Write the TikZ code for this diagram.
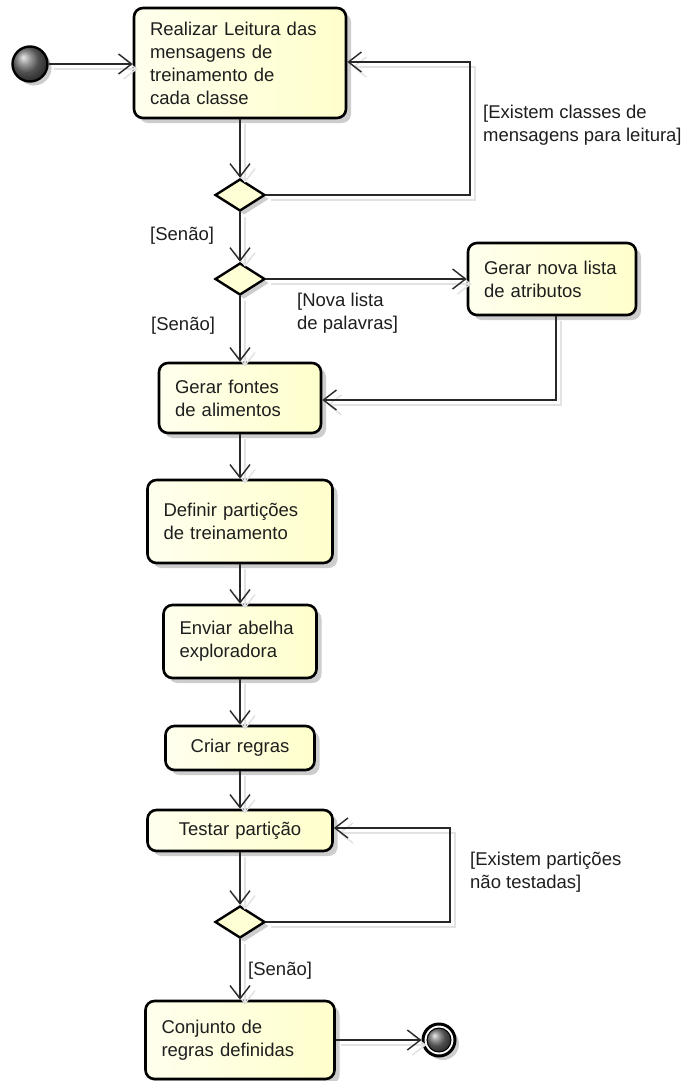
\documentclass[tikz,border=0pt]{standalone}
\usepackage{fontspec}
\setmainfont{Liberation Sans}
\usetikzlibrary{arrows.meta,shapes.geometric,shadows}

\definecolor{actL}{RGB}{255,255,238}
\definecolor{actR}{RGB}{255,255,204}
\definecolor{decF}{RGB}{255,255,214}
\definecolor{lineC}{RGB}{40,40,40}
\definecolor{txtC}{RGB}{30,30,30}
\definecolor{shadeC}{RGB}{205,205,205}
\definecolor{ghostC}{RGB}{226,226,226}

\newcommand\umlfont{\fontsize{18.5pt}{23pt}\selectfont}

\begin{document}
\begin{tikzpicture}[x=1pt,y=-1pt,
  act/.style={draw=black, line width=2.6pt, rounded corners=9pt,
    left color=actL, right color=actR,
    drop shadow={shadow xshift=5pt, shadow yshift=-5pt, fill=shadeC, opacity=1},
    font=\umlfont, text=txtC, inner xsep=16pt, inner ysep=0pt},
  actl/.style={act, align=left},
  actc/.style={act, align=center},
  dec/.style={diamond, draw=black, line width=2.4pt, fill=decF, inner sep=0pt,
    minimum width=50pt, minimum height=32pt,
    drop shadow={shadow xshift=4pt, shadow yshift=-4pt, fill=shadeC, opacity=1}},
  flow/.style={draw=lineC, line width=1.4pt,
    -{Straight Barb[length=13pt, width=20pt, line width=1.4pt]},
    preaction={draw=ghostC, line width=1.4pt,
      transform canvas={shift={(5pt,-5pt)}}}},
  guard/.style={font=\umlfont, text=txtC, align=left, inner sep=0pt},
  startnode/.style={circle, draw=black, line width=2.4pt, minimum size=35pt,
    inner sep=0pt, shading=ball, ball color=black!55,
    drop shadow={shadow xshift=4pt, shadow yshift=-4pt, fill=shadeC, opacity=1}},
  endring/.style={circle, draw=black, line width=3pt, minimum size=32pt,
    inner sep=0pt, fill=white,
    drop shadow={shadow xshift=4pt, shadow yshift=-4pt, fill=shadeC, opacity=1}},
  endball/.style={circle, draw=black, line width=1pt, minimum size=24pt,
    inner sep=0pt, shading=ball, ball color=black!55}
]
\fill[white] (0,0) rectangle (686,1081);
\useasboundingbox (0,0) rectangle (686,1081);

% start and end markers
\node[startnode] (start) at (30,64) {};
\node[endring] (fin) at (439,1040) {};
\node[endball] (finball) at (fin) {};

% actions
\node[actl, text width=180pt, minimum height=110pt] (b1) at (240,63)
  {Realizar Leitura das\\mensagens de\\treinamento de\\cada classe};
\node[actl, text width=136pt, minimum height=72pt] (nova) at (552,279)
  {Gerar nova lista\\de atributos};
\node[actl, text width=130pt, minimum height=70pt] (fontes) at (240,398)
  {Gerar fontes\\de alimentos};
\node[actl, text width=153pt, minimum height=83pt] (definir) at (240,521.5)
  {Definir partições\\de treinamento};
\node[actl, text width=121pt, minimum height=73pt] (enviar) at (240,641.5)
  {Enviar abelha\\exploradora};
\node[actc, text width=117pt, minimum height=44pt] (criar) at (240,748)
  {Criar regras};
\node[actc, text width=153pt, minimum height=41pt] (testar) at (240,830.5)
  {Testar partição};
\node[actl, text width=157pt, minimum height=78pt] (conj) at (240,1040)
  {Conjunto de\\regras definidas};

% decisions
\node[dec] (d1) at (240,195) {};
\node[dec] (d2) at (240,279) {};
\node[dec] (d3) at (240,922) {};

% loop corners
\coordinate (l1a) at (470,195);
\coordinate (l1b) at (470,62);
\coordinate (n1) at (556,400);
\coordinate (l3a) at (450,922);
\coordinate (l3b) at (450,828);

% flows
\draw[flow] (start) -- (b1.west |- start);
\draw[flow] (b1) -- (d1);
\draw[flow] (d1.east) -- (l1a) -- (l1b) -- (b1.east |- l1b);
\draw[flow] (d1) -- (d2);
\draw[flow] (d2) -- (nova);
\draw[flow] (d2) -- (fontes);
\draw[flow] (nova.south -| n1) -- (n1) -- (fontes.east |- n1);
\draw[flow] (fontes) -- (definir);
\draw[flow] (definir) -- (enviar);
\draw[flow] (enviar) -- (criar);
\draw[flow] (criar) -- (testar);
\draw[flow] (testar) -- (d3);
\draw[flow] (d3.east) -- (l3a) -- (l3b) -- (testar.east |- l3b);
\draw[flow] (d3) -- (conj);
\draw[flow] (conj) -- (fin);

% guards
\node[guard, anchor=north west] (g1) at (483,105)
  {[Existem classes de\\mensagens para leitura]};
\node[guard, anchor=west] (g2) at (150,236) {[Senão]};
\node[guard, anchor=north west] (g3) at (297,293)
  {[Nova lista\\de palavras]};
\node[guard, anchor=west] (g4) at (151,326) {[Senão]};
\node[guard, anchor=north west] (g5) at (470,852)
  {[Existem partições\\não testadas]};
\node[guard, anchor=west] (g6) at (248,971) {[Senão]};
\end{tikzpicture}
\end{document}
